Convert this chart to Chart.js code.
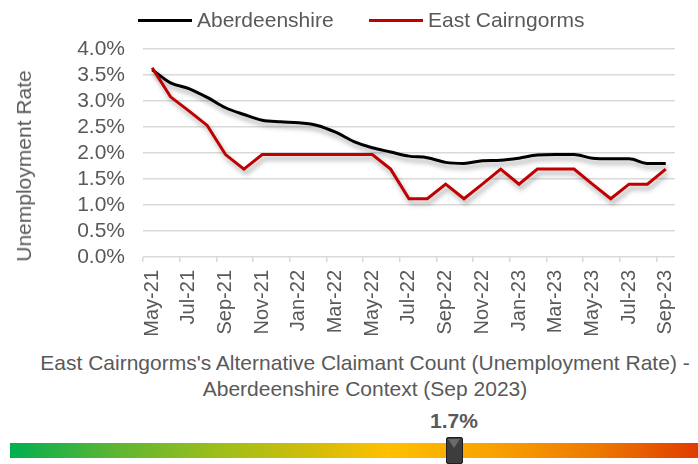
<!DOCTYPE html>
<html>
<head>
<meta charset="utf-8">
<script src="https://cdn.jsdelivr.net/npm/chart.js@4"></script>
<style>
  html, body { margin: 0; padding: 0; background: #ffffff; }
  body { width: 698px; height: 464px; position: relative; overflow: hidden;
         font-family: "Liberation Sans", Arial, sans-serif; color: #595959; }
  #wrap { position: absolute; left: 0; top: 0; width: 698px; height: 345px; }
  .leg-line { position: absolute; height: 3px; width: 54px; }
  .leg-text { position: absolute; font-size: 21px; line-height: 24px; white-space: nowrap; color: #595959; }
  #ytitle { position: absolute; left: 24px; top: 166px; font-size: 21px; line-height: 24px;
            white-space: nowrap; transform: translate(-50%, -50%) rotate(-90deg); color: #595959; }
  #subtitle { position: absolute; left: 32px; top: 350px; width: 666px; text-align: center;
              font-size: 21px; line-height: 26px; color: #595959; }
  #value { position: absolute; left: 404px; width: 100px; top: 409px; text-align: center;
           font-size: 21px; line-height: 24px; font-weight: bold; color: #595959; }
  #bar { position: absolute; left: 10px; top: 443px; width: 688px; height: 15px;
         background: linear-gradient(to right, #00b050 0%, #5cb534 15%, #9cbe1c 30%, #d6bd08 45%, #ffc000 55%, #f8a200 70%, #ee7a00 85%, #e03c00 100%); }
  #marker { position: absolute; left: 446px; top: 437px; width: 15px; height: 25px;
            background: #3d3d3d; border: 1px solid #1e1e1e; border-radius: 2px; }
  #marker::before { content: ""; position: absolute; left: 1px; top: 1px; width: 0; height: 0;
            border-left: 6.5px solid transparent; border-right: 6.5px solid transparent;
            border-top: 9px solid #6a6a6a; }
</style>
</head>
<body>
<div id="wrap"><canvas id="c" width="698" height="345"></canvas></div>
<div class="leg-line" style="left:138px; top:19px; background:#000000;"></div>
<div class="leg-text" style="left:197px; top:8px;">Aberdeenshire</div>
<div class="leg-line" style="left:369px; top:19px; background:#c00000;"></div>
<div class="leg-text" style="left:428px; top:8px;">East Cairngorms</div>
<div id="ytitle">Unemployment Rate</div>
<div id="subtitle">East Cairngorms's Alternative Claimant Count (Unemployment Rate) -<br>Aberdeenshire Context (Sep 2023)</div>
<div id="value">1.7%</div>
<div id="bar"></div>
<div id="marker"></div>
<script>
const months = ["May-21","Jun-21","Jul-21","Aug-21","Sep-21","Oct-21","Nov-21","Dec-21",
  "Jan-22","Feb-22","Mar-22","Apr-22","May-22","Jun-22","Jul-22","Aug-22","Sep-22","Oct-22",
  "Nov-22","Dec-22","Jan-23","Feb-23","Mar-23","Apr-23","May-23","Jun-23","Jul-23","Aug-23","Sep-23"];
const aberdeenshire = [3.60,3.35,3.24,3.07,2.87,2.74,2.63,2.60,2.58,2.53,2.40,2.22,2.10,2.02,
  1.94,1.91,1.82,1.80,1.85,1.86,1.90,1.96,1.97,1.97,1.90,1.89,1.89,1.80,1.80];
const eastCairngorms = [3.64,3.08,2.81,2.53,1.97,1.69,1.97,1.97,1.97,1.97,1.97,1.97,1.97,1.69,
  1.12,1.12,1.40,1.12,1.40,1.69,1.40,1.69,1.69,1.69,1.40,1.12,1.40,1.40,1.69];
const yTicks = [0,0.5,1.0,1.5,2.0,2.5,3.0,3.5,4.0];

const FONT = "'Liberation Sans', Arial, sans-serif";

const shadowPlugin = {
  id: 'lineShadow',
  beforeDatasetsDraw(chart) {
    const ctx = chart.ctx;
    ctx.save();
    ctx.shadowColor = 'rgba(0,0,0,0.35)';
    ctx.shadowBlur = 5;
    ctx.shadowOffsetX = 2;
    ctx.shadowOffsetY = 4;
  },
  afterDatasetsDraw(chart) {
    chart.ctx.restore();
  }
};

new Chart(document.getElementById('c'), {
  type: 'line',
  data: {
    labels: months,
    datasets: [
      { label: 'Aberdeenshire', data: aberdeenshire, borderColor: '#000000', backgroundColor: '#000000',
        borderWidth: 3, pointRadius: 0, cubicInterpolationMode: 'monotone', order: 2 },
      { label: 'East Cairngorms', data: eastCairngorms, borderColor: '#c00000', backgroundColor: '#c00000',
        borderWidth: 3, pointRadius: 0, tension: 0, order: 1 }
    ]
  },
  options: {
    responsive: false,
    animation: false,
    layout: { padding: { top: 49, right: 15, left: 0, bottom: 0 } },
    plugins: { legend: { display: false }, tooltip: { enabled: false } },
    scales: {
      x: {
        offset: true,
        afterFit(scale) { scale.height = 88; },
        grid: {
          offset: true,
          drawOnChartArea: false,
          drawTicks: true,
          tickLength: 5,
          lineWidth: 1.5,
          color: (c) => (c.index !== undefined && c.index % 2 === 0) ? '#d9d9d9' : 'rgba(0,0,0,0)'
        },
        border: { display: false },
        ticks: {
          autoSkip: false,
          minRotation: 90,
          maxRotation: 90,
          padding: 8,
          color: '#595959',
          font: { family: FONT, size: 20 },
          callback: function(val, idx) { return idx % 2 === 0 ? this.getLabelForValue(val) : ''; }
        }
      },
      y: {
        min: 0,
        max: 4,
        afterFit(scale) { scale.width = 143; },
        afterBuildTicks(scale) { scale.ticks = yTicks.map(v => ({ value: v })); },
        grid: { color: '#d9d9d9', lineWidth: 1.5, drawTicks: false },
        border: { display: false },
        ticks: {
          autoSkip: false,
          padding: 18,
          color: '#595959',
          font: { family: FONT, size: 21, lineHeight: 1.0 },
          callback: (v) => Number(v).toFixed(1) + '%'
        }
      }
    }
  },
  plugins: [shadowPlugin]
});
</script>
</body>
</html>
